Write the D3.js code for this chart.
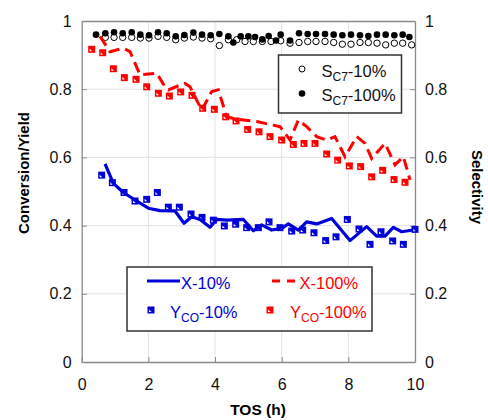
<!doctype html>
<html lang="en">
<head>
<meta charset="utf-8">
<title>Conversion/Yield and Selectivity vs TOS</title>
<script src="https://cdn.jsdelivr.net/npm/d3@7/dist/d3.min.js"></script>
<style>
	body { margin: 0; background: #fff; }
	text { font-family: "Liberation Sans", Arial, sans-serif; }
</style>
</head>
<body>
<svg id="chart" width="488" height="420"></svg>
<script>
// ---- data ----
var xTicks = [0, 2, 4, 6, 8, 10];
var yTicks = [0, 0.2, 0.4, 0.6, 0.8, 1];

// X-10% (solid blue line)
var tosX10 = [0.7, 0.95, 1.25, 1.6, 2.0, 2.35, 2.8, 3.07, 3.3, 3.55, 3.85, 4.05, 4.35, 4.85, 5.15, 5.4, 5.7, 6.0, 6.2, 6.5, 6.75, 7.05, 7.5, 8.05, 8.55, 8.85, 9.1, 9.35, 9.6, 9.95];
var convX10 = [0.581, 0.524, 0.497, 0.475, 0.451, 0.444, 0.443, 0.407, 0.426, 0.418, 0.395, 0.418, 0.416, 0.418, 0.385, 0.402, 0.387, 0.392, 0.405, 0.387, 0.411, 0.405, 0.421, 0.356, 0.397, 0.369, 0.369, 0.395, 0.382, 0.387];

// X-100% (dashed red line)
var tosX100 = [0.55, 0.75, 0.85, 1.25, 1.45, 1.75, 2.25, 2.5, 2.6, 2.95, 3.1, 3.25, 3.6, 3.9, 4.1, 4.35, 4.65, 5.25, 5.95, 6.25, 6.5, 6.75, 7.05, 7.35, 7.6, 7.9, 8.25, 8.5, 8.7, 9.1, 9.4, 9.65, 9.85];
var convX100 = [0.955, 0.925, 0.91, 0.92, 0.91, 0.842, 0.847, 0.807, 0.798, 0.812, 0.817, 0.807, 0.739, 0.793, 0.798, 0.719, 0.712, 0.705, 0.69, 0.651, 0.71, 0.69, 0.661, 0.651, 0.661, 0.602, 0.661, 0.641, 0.597, 0.641, 0.578, 0.602, 0.534];

// Y_CO-10% (blue squares)
var tosY10 = [0.6, 0.92, 1.27, 1.6, 1.95, 2.27, 2.6, 2.93, 3.28, 3.61, 3.95, 4.28, 4.62, 4.95, 5.3, 5.62, 5.95, 6.3, 6.63, 6.97, 7.32, 7.63, 7.97, 8.32, 8.65, 8.98, 9.33, 9.65, 10.0];
var yieldY10 = [0.548, 0.526, 0.497, 0.472, 0.477, 0.497, 0.454, 0.454, 0.434, 0.424, 0.416, 0.399, 0.404, 0.394, 0.394, 0.411, 0.394, 0.384, 0.387, 0.379, 0.356, 0.367, 0.418, 0.39, 0.345, 0.382, 0.355, 0.345, 0.389];

// Y_CO-100% (red squares)
var tosY100 = [0.3, 0.63, 0.95, 1.28, 1.63, 1.95, 2.3, 2.63, 2.97, 3.31, 3.63, 3.98, 4.32, 4.63, 4.98, 5.32, 5.65, 6.0, 6.35, 6.67, 7.0, 7.35, 7.68, 8.03, 8.37, 8.7, 9.03, 9.37, 9.7];
var yieldY100 = [0.917, 0.907, 0.86, 0.834, 0.829, 0.807, 0.788, 0.78, 0.792, 0.782, 0.744, 0.741, 0.719, 0.707, 0.682, 0.675, 0.661, 0.651, 0.638, 0.641, 0.641, 0.61, 0.592, 0.575, 0.573, 0.543, 0.562, 0.535, 0.527];

// S_C7-10% (open circles, right axis)
var tosS10 = [0.71, 0.97, 1.23, 1.5, 1.76, 2.02, 2.29, 2.55, 2.82, 3.08, 3.35, 3.61, 3.87, 4.13, 4.4, 4.65, 4.9, 5.15, 5.42, 5.68, 5.97, 6.25, 6.52, 6.78, 7.03, 7.3, 7.56, 7.82, 8.08, 8.35, 8.6, 8.86, 9.12, 9.38, 9.63, 9.9];
var selS10 = [0.952, 0.952, 0.952, 0.952, 0.95, 0.95, 0.955, 0.952, 0.945, 0.95, 0.953, 0.95, 0.948, 0.928, 0.945, 0.945, 0.94, 0.94, 0.94, 0.94, 0.942, 0.935, 0.937, 0.94, 0.94, 0.94, 0.937, 0.932, 0.932, 0.937, 0.937, 0.935, 0.93, 0.935, 0.935, 0.93];

// S_C7-100% (filled dots, right axis)
var tosS100 = [0.43, 0.71, 0.97, 1.23, 1.5, 1.76, 2.02, 2.29, 2.55, 2.82, 3.08, 3.35, 3.61, 3.87, 4.13, 4.4, 4.55, 4.77, 5.0, 5.2, 5.42, 5.61, 5.83, 5.97, 6.25, 6.52, 6.78, 7.03, 7.3, 7.56, 7.82, 8.08, 8.35, 8.6, 8.86, 9.12, 9.38, 9.63, 9.83];
var selS100 = [0.96, 0.964, 0.967, 0.964, 0.967, 0.96, 0.958, 0.967, 0.964, 0.955, 0.959, 0.966, 0.96, 0.958, 0.962, 0.955, 0.937, 0.955, 0.955, 0.953, 0.946, 0.956, 0.943, 0.96, 0.943, 0.964, 0.962, 0.962, 0.962, 0.96, 0.958, 0.96, 0.958, 0.956, 0.96, 0.96, 0.958, 0.96, 0.953];

var BLUE = "#0000d8", RED = "#ff0000";

// ---- layout ----
var svg = d3.select("#chart");
var pL = 81.7, pR = 415, pT = 21, pB = 362;
var x = d3.scaleLinear().domain([0, 10]).range([pL, pR]);
var y = d3.scaleLinear().domain([0, 1]).range([pB, pT]);
var ySel = d3.scaleLinear().domain([0, 1]).range([pB, pT]);

// grid
var grid = svg.append("g");
grid.selectAll(".gx").data(xTicks.slice(1, -1)).enter().append("line")
	.attr("x1", function(d) { return x(d); }).attr("x2", function(d) { return x(d); })
	.attr("y1", pT).attr("y2", pB)
	.attr("stroke", "#e3e3e3").attr("stroke-width", 1);
grid.selectAll(".gy").data(yTicks.slice(1, -1)).enter().append("line")
	.attr("x1", pL).attr("x2", pR)
	.attr("y1", function(d) { return y(d); }).attr("y2", function(d) { return y(d); })
	.attr("stroke", "#e3e3e3").attr("stroke-width", 1);

// axes
function fmt(d) { return d3.format("")(d); }
var axL = svg.append("g").attr("transform", "translate(" + pL + ",0)")
	.call(d3.axisLeft(y).tickValues(yTicks).tickSizeInner(-5).tickSizeOuter(0).tickPadding(10).tickFormat(fmt));
var axR = svg.append("g").attr("transform", "translate(" + pR + ",0)")
	.call(d3.axisRight(ySel).tickValues(yTicks).tickSizeInner(-5).tickSizeOuter(0).tickPadding(10).tickFormat(fmt));
var axB = svg.append("g").attr("transform", "translate(0," + pB + ")")
	.call(d3.axisBottom(x).tickValues(xTicks).tickSizeInner(-5).tickSizeOuter(0).tickPadding(17).tickFormat(fmt));
var axT = svg.append("g").attr("transform", "translate(0," + pT + ")")
	.call(d3.axisTop(x).tickValues(xTicks).tickSizeInner(0).tickSizeOuter(0).tickFormat(""));
[axL, axR, axB, axT].forEach(function(a) {
	a.select(".domain").attr("stroke", "#8a8a8a").attr("stroke-width", 1.3);
	a.selectAll(".tick line").attr("stroke", "#8a8a8a");
	a.selectAll(".tick text").attr("font-size", 16).attr("fill", "#111")
		.style("font-family", "'Liberation Sans', Arial, sans-serif");
});

// axis titles
svg.append("text").attr("transform", "translate(29,173) rotate(-90)")
	.attr("text-anchor", "middle").attr("font-size", 15).attr("font-weight", "bold")
	.text("Conversion/Yield");
svg.append("text").attr("transform", "translate(472,187) rotate(90)")
	.attr("text-anchor", "middle").attr("font-size", 15).attr("font-weight", "bold")
	.text("Selectivity");
svg.append("text").attr("x", 258).attr("y", 415)
	.attr("text-anchor", "middle").attr("font-size", 15.5).attr("font-weight", "bold")
	.text("TOS (h)");

// marks
var plot = svg.append("g");

function zipXY(ts, vs) { return ts.map(function(t, i) { return [t, vs[i]]; }); }
var line = d3.line().x(function(d) { return x(d[0]); }).y(function(d) { return y(d[1]); });

function squareMarker(g, cx, cy, col) {
	g.append("rect").attr("x", cx - 3.5).attr("y", cy - 3.5).attr("width", 7).attr("height", 7)
		.attr("fill", col);
	g.append("path").attr("d", "M" + (cx - 2) + "," + (cy - 0.5) + "L" + (cx - 2) + "," + (cy + 2) + "L" + (cx + 0.5) + "," + (cy + 2) + "Z")
		.attr("fill", "#fff");
}

// selectivity
plot.selectAll(".s10").data(zipXY(tosS10, selS10)).enter().append("circle")
	.attr("cx", function(d) { return x(d[0]); }).attr("cy", function(d) { return ySel(d[1]); })
	.attr("r", 3.2).attr("fill", "#fff").attr("stroke", "#000").attr("stroke-width", 1);
plot.selectAll(".s100").data(zipXY(tosS100, selS100)).enter().append("circle")
	.attr("cx", function(d) { return x(d[0]); }).attr("cy", function(d) { return ySel(d[1]); })
	.attr("r", 3.3).attr("fill", "#000");

// yields
zipXY(tosY100, yieldY100).forEach(function(d) { squareMarker(plot, x(d[0]), y(d[1]), RED); });
zipXY(tosY10, yieldY10).forEach(function(d) { squareMarker(plot, x(d[0]), y(d[1]), BLUE); });

// conversions
plot.append("path").attr("d", line(zipXY(tosX100, convX100)))
	.attr("fill", "none").attr("stroke", RED).attr("stroke-width", 3).attr("stroke-dasharray", "11,6");
plot.append("path").attr("d", line(zipXY(tosX10, convX10)))
	.attr("fill", "none").attr("stroke", BLUE).attr("stroke-width", 3.2).attr("stroke-linejoin", "round");

// legend: selectivity
var lg1 = svg.append("g");
lg1.append("rect").attr("x", 278.5).attr("y", 55).attr("width", 123).attr("height", 58)
	.attr("fill", "#fff").attr("stroke", "#333").attr("stroke-width", 1.5);
lg1.append("circle").attr("cx", 302).attr("cy", 69).attr("r", 3).attr("fill", "#fff").attr("stroke", "#000");
lg1.append("circle").attr("cx", 302).attr("cy", 93.5).attr("r", 3.3).attr("fill", "#000");
function subLabel(g, tx, ty, main, sub, rest, col) {
	var t = g.append("text").attr("x", tx).attr("y", ty).attr("font-size", 16.5).attr("fill", col);
	t.append("tspan").text(main);
	t.append("tspan").attr("dy", 4).attr("font-size", 12).text(sub);
	t.append("tspan").attr("dy", -4).text(rest);
}
subLabel(lg1, 321.5, 76.5, "S", "C7", "-10%", "#111");
subLabel(lg1, 321.5, 100.5, "S", "C7", "-100%", "#111");

// legend: conversion / yield
var lg2 = svg.append("g");
lg2.append("rect").attr("x", 127).attr("y", 267).attr("width", 245).attr("height", 64)
	.attr("fill", "#fff").attr("stroke", "#333").attr("stroke-width", 1.5);
lg2.append("line").attr("x1", 147).attr("x2", 180).attr("y1", 281).attr("y2", 281)
	.attr("stroke", BLUE).attr("stroke-width", 3);
lg2.append("text").attr("x", 181).attr("y", 288.5).attr("font-size", 16.5).attr("fill", BLUE).text("X-10%");
lg2.append("line").attr("x1", 272).attr("x2", 297).attr("y1", 281).attr("y2", 281)
	.attr("stroke", RED).attr("stroke-width", 3).attr("stroke-dasharray", "8,7");
lg2.append("text").attr("x", 299.5).attr("y", 288.5).attr("font-size", 16.5).attr("fill", RED).text("X-100%");
squareMarker(lg2, 151, 310, BLUE);
subLabel(lg2, 170, 317.5, "Y", "CO", "-10%", BLUE);
squareMarker(lg2, 270, 310, RED);
subLabel(lg2, 290, 317.5, "Y", "CO", "-100%", RED);
</script>
</body>
</html>
